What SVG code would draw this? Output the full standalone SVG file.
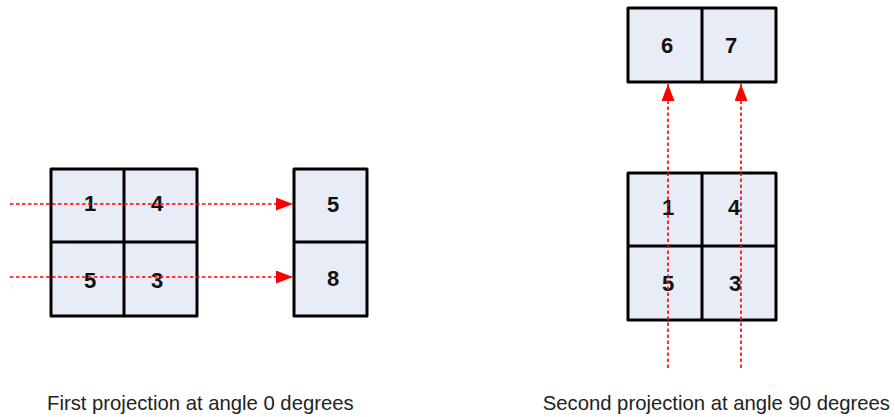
<svg xmlns="http://www.w3.org/2000/svg" width="895" height="417" viewBox="0 0 895 417">
<defs>
<style>
.cell{fill:#e7ecf6;stroke:#000;stroke-width:3;stroke-linejoin:round}
.div{stroke:#000;stroke-width:3;fill:none}
.num{font-family:"Liberation Sans",Arial,sans-serif;font-weight:bold;font-size:22px;fill:#111;text-anchor:middle}
.cap{font-family:"Liberation Sans",Arial,sans-serif;font-size:20.3px;fill:#222}
.arr{stroke:#ff0000;stroke-width:1.6;stroke-dasharray:3.5 2.5;fill:none}
</style>
<marker id="ah" markerUnits="userSpaceOnUse" markerWidth="18" markerHeight="14" refX="17" refY="6.5" orient="auto">
<path d="M0,0 L17,6.5 L0,13 Z" fill="#ff0000"/>
</marker>
</defs>
<rect width="895" height="417" fill="#fff"/>
<g id="left-grid">
<rect class="cell" x="51" y="169" width="146" height="147"/>
<line class="div" x1="124" y1="169" x2="124" y2="316"/>
<line class="div" x1="51" y1="242" x2="197" y2="242"/>
<text class="num" x="90" y="211">1</text>
<text class="num" x="157" y="211">4</text>
<text class="num" x="90" y="288">5</text>
<text class="num" x="157" y="288">3</text>
</g>
<g id="left-result">
<rect class="cell" x="294" y="169" width="73" height="147"/>
<line class="div" x1="294" y1="242" x2="367" y2="242"/>
<text class="num" x="333" y="212">5</text>
<text class="num" x="333" y="286">8</text>
</g>
<g id="right-result">
<rect class="cell" x="628" y="8" width="148" height="74"/>
<line class="div" x1="702" y1="8" x2="702" y2="82"/>
<text class="num" x="667" y="53">6</text>
<text class="num" x="731" y="53">7</text>
</g>
<g id="right-grid">
<rect class="cell" x="628" y="173" width="148" height="147"/>
<line class="div" x1="702" y1="173" x2="702" y2="320"/>
<line class="div" x1="628" y1="246" x2="776" y2="246"/>
<text class="num" x="668" y="215">1</text>
<text class="num" x="734" y="215">4</text>
<text class="num" x="668" y="291">5</text>
<text class="num" x="735" y="291">3</text>
</g>
<g id="connectors">
<line class="arr" x1="10" y1="204" x2="293" y2="204" marker-end="url(#ah)"/>
<line class="arr" x1="10" y1="277" x2="293" y2="277" marker-end="url(#ah)"/>
<line class="arr" x1="668" y1="368" x2="668" y2="84" marker-end="url(#ah)"/>
<line class="arr" x1="741" y1="368" x2="741" y2="84" marker-end="url(#ah)"/>
</g>
<g id="captions">
<text class="cap" x="47" y="410">First projection at angle 0 degrees</text>
<text class="cap" x="890" y="410" text-anchor="end">Second projection at angle 90 degrees</text>
</g>
</svg>
